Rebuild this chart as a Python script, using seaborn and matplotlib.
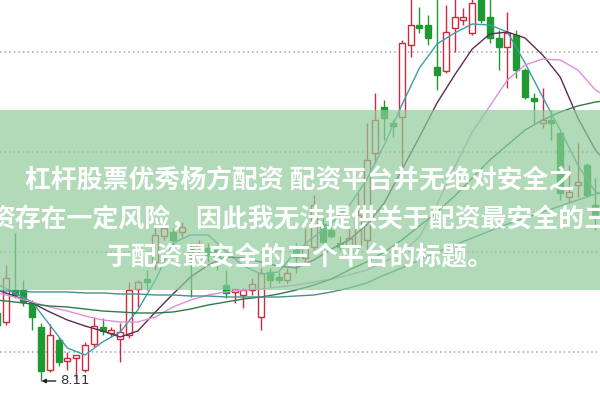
import matplotlib
matplotlib.use("Agg")
import matplotlib.pyplot as plt
import seaborn as sns
import pandas as pd
import numpy as np

sns.set_style("white")
plt.rcParams['font.family'] = ['Noto Sans CJK SC', 'DejaVu Sans']

# -------------------------------
# daily candles (price)
# -------------------------------
opens = [8.79, 8.70, 9.02, 9.02, 8.89, 8.65, 8.22, 8.52, 8.31, 8.34,
         8.22, 8.48, 8.65, 8.59, 8.53, 8.57, 9.03, 9.13, 9.30, 9.56,
         9.60, 9.60, 9.45, 9.45, 9.44, 9.42, 9.07, 9.00, 8.97, 9.02,
         8.75, 9.20, 9.15, 9.12, 9.42, 9.34, 9.45, 9.68, 9.62, 9.49,
         9.45, 9.47, 9.52, 10.39, 10.85, 10.68, 10.75, 11.47, 11.67, 11.67,
         11.25, 11.21, 11.64, 11.72, 11.59, 11.97, 11.75, 11.54, 11.45, 11.57,
         11.22, 10.94, 10.69, 10.72, 10.59, 9.95, 10.07, 10.27, 9.87, 9.92]
closes = [8.67, 9.14, 8.97, 8.90, 8.75, 8.21, 8.57, 8.30, 8.34, 8.36,
          8.47, 8.66, 8.61, 8.61, 8.60, 9.02, 9.10, 9.10, 9.57, 9.64,
          9.52, 9.65, 9.35, 9.48, 9.37, 9.35, 8.99, 9.02, 9.02, 9.08,
          9.19, 9.12, 9.12, 9.19, 9.35, 9.47, 9.87, 9.50, 9.56, 9.45,
          9.54, 9.77, 10.32, 10.72, 10.74, 10.66, 11.49, 11.67, 11.64, 11.54,
          11.17, 11.60, 11.75, 11.75, 11.89, 11.72, 11.54, 11.45, 11.59, 11.22,
          10.95, 10.91, 10.72, 10.69, 9.99, 10.00, 10.10, 9.97, 9.75, 10.07]
highs = [8.87, 9.27, 9.59, 9.12, 8.92, 8.69, 8.68, 8.55, 8.40, 8.37,
         8.50, 8.75, 8.74, 8.65, 8.69, 9.10, 9.12, 9.22, 9.67, 9.70,
         9.64, 9.70, 9.49, 9.52, 9.49, 9.47, 9.22, 9.02, 9.04, 9.14,
         9.24, 9.24, 9.20, 9.24, 9.49, 9.64, 9.97, 9.78, 9.67, 9.56,
         9.64, 9.99, 10.69, 10.99, 10.92, 10.72, 11.52, 12.00, 11.85, 11.77,
         12.02, 11.87, 11.97, 11.84, 11.97, 12.07, 11.97, 11.62, 11.80, 11.62,
         11.24, 10.99, 11.04, 10.82, 10.60, 10.27, 10.49, 10.29, 10.14, 10.15]
lows = [8.62, 8.67, 8.94, 8.86, 8.62, 8.11, 8.20, 8.26, 8.22, 8.13,
        8.20, 8.45, 8.57, 8.55, 8.30, 8.54, 8.85, 9.02, 9.22, 9.52,
        9.42, 9.55, 8.95, 9.39, 9.30, 9.22, 8.94, 8.89, 8.84, 8.97,
        8.62, 9.05, 9.09, 9.09, 9.19, 9.30, 9.42, 9.48, 9.54, 9.42,
        9.40, 9.40, 9.42, 10.29, 10.52, 10.55, 10.25, 11.35, 11.59, 11.47,
        11.02, 11.19, 11.40, 11.67, 11.57, 11.69, 11.49, 11.22, 11.04, 11.14,
        10.93, 10.69, 10.64, 10.52, 9.92, 9.90, 9.95, 9.95, 9.62, 9.79]

# moving averages, read every second day
ma_days = list(range(0, 71, 2))
ma5 = [9.08, 8.99, 8.90, 8.67, 8.44, 8.37, 8.50, 8.60, 8.82, 9.12,
       9.49, 9.57, 9.57, 9.41, 9.26, 9.18, 9.20, 9.41, 9.55, 9.69,
       9.86, 10.12, 10.47, 10.87, 11.24, 11.48, 11.59, 11.68, 11.67, 11.60,
       11.29, 10.95, 10.62, 10.27, 10.00, 9.94]
ma10 = [9.02, 8.96, 8.89, 8.80, 8.72, 8.66, 8.61, 8.55, 8.61, 8.80,
        8.98, 9.15, 9.27, 9.35, 9.34, 9.30, 9.26, 9.24, 9.32, 9.43,
        9.52, 9.67, 9.89, 10.22, 10.55, 10.89, 11.17, 11.43, 11.58, 11.60,
        11.54, 11.37, 11.15, 10.74, 10.42, 10.22]
ma20 = [8.99, 8.95, 8.90, 8.85, 8.81, 8.76, 8.72, 8.70, 8.70, 8.75,
        8.85, 8.92, 8.97, 9.00, 9.02, 9.03, 9.05, 9.07, 9.10, 9.13,
        9.17, 9.22, 9.30, 9.39, 9.55, 9.88, 10.25, 10.60, 10.86, 11.12,
        11.27, 11.33, 11.32, 11.22, 11.02, 10.92]
ma30 = [8.92, 8.90, 8.88, 8.86, 8.85, 8.83, 8.81, 8.80, 8.79, 8.79,
        8.80, 8.83, 8.87, 8.90, 8.93, 8.95, 8.98, 9.02, 9.07, 9.13,
        9.22, 9.30, 9.40, 9.52, 9.66, 9.80, 9.96, 10.14, 10.32, 10.47,
        10.62, 10.72, 10.80, 10.86, 10.90, 10.92]
ma60 = [9.01, 9.01, 9.00, 9.00, 9.00, 8.99, 8.99, 8.98, 8.98, 8.97,
        8.97, 8.96, 8.96, 8.95, 8.95, 8.95, 8.95, 8.96, 8.97, 9.00,
        9.04, 9.09, 9.17, 9.24, 9.32, 9.40, 9.47, 9.54, 9.61, 9.68,
        9.74, 9.80, 9.86, 9.92, 9.98, 10.02]

grid_levels = [8.4, 9.4, 10.4, 11.4]
low_label = "8.11"
overlay_lines = ["杠杆股票优秀杨方配资 配资平台并无绝对安全之",
                 "资存在一定风险，因此我无法提供关于配资最安全的三",
                 "于配资最安全的三个平台的标题。"]

RED = "#d2283c"
GREEN = "#1f9a33"

fig = plt.figure(figsize=(6, 4), dpi=100)
ax = fig.add_axes([0, 0, 1, 1])

for lv in grid_levels:
    ax.axhline(lv, color="#a4a4a4", lw=1.1, ls=(0, (1, 2)), zorder=1)

# candles
for d, (o, c, h, l) in enumerate(zip(opens, closes, highs, lows)):
    up = c >= o
    col = RED if up else GREEN
    ax.vlines(d, l, h, color=col, lw=1, zorder=2)
    ax.bar(d, max(abs(c - o), 0.025), bottom=min(o, c), width=0.68,
           facecolor="white" if up else col, edgecolor=col, linewidth=1, zorder=3)

# moving average lines
ma = pd.DataFrame({"day": ma_days * 5,
                   "value": ma5 + ma10 + ma20 + ma30 + ma60,
                   "line": ["MA5"] * len(ma5) + ["MA10"] * len(ma10) + ["MA20"] * len(ma20)
                           + ["MA30"] * len(ma30) + ["MA60"] * len(ma60)})
sns.lineplot(data=ma, x="day", y="value", hue="line", ax=ax, legend=False,
             palette={"MA5": "#3a9faa", "MA10": "#5e2a55", "MA20": "#dc90dc",
                      "MA30": "#2f7a48", "MA60": "#4a8f8c"},
             linewidth=1, zorder=4)

# lowest price marker
ax.annotate(low_label, xy=(5.05, 8.11), xytext=(7.2, 8.11), ha="left", va="center",
            fontsize=9.5, color="#333333", family="DejaVu Sans",
            arrowprops=dict(arrowstyle="-|>", color="#222222", lw=1,
                            shrinkA=1, shrinkB=0, mutation_scale=6))

ax.set_xlim(0.34, 68.52)
ax.set_ylim(7.92, 11.92)

# translucent caption band
ax.axhspan(9.02, 10.82, color="#8fcb9b", alpha=0.7, lw=0, zorder=5)
for i, line in enumerate(overlay_lines):
    ax.text(0.5, 0.548 - i * 0.096, line, transform=ax.transAxes, ha="center", va="center",
            color="white", fontsize=18.6, fontweight="bold", zorder=6)

ax.set_axis_off()
fig.savefig("out.png", dpi=100)
